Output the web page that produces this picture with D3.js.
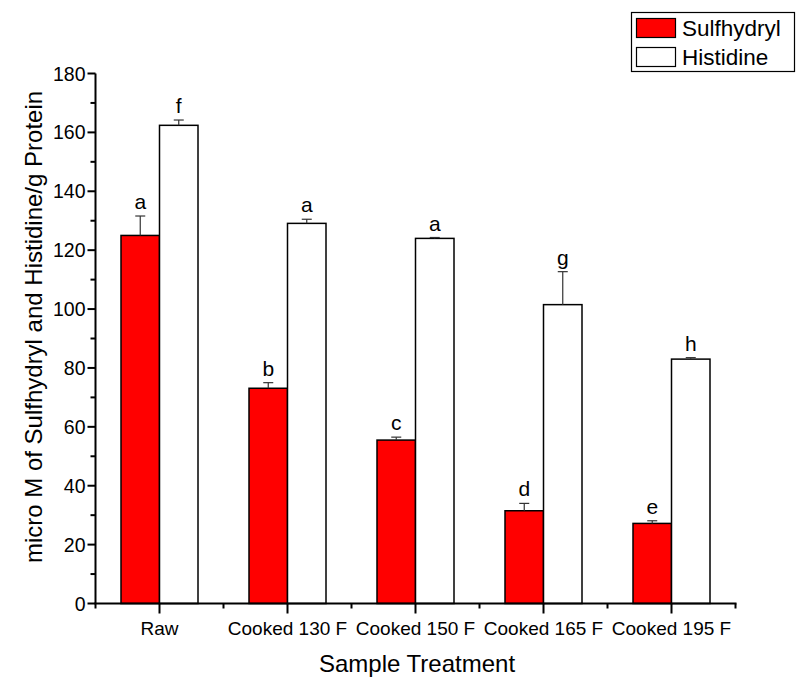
<!DOCTYPE html>
<html>
<head>
<meta charset="utf-8">
<script src="https://cdn.jsdelivr.net/npm/d3@7"></script>
<style>
  html, body { margin: 0; padding: 0; background: #fff; }
  svg { display: block; font-family: "Liberation Sans", Arial, Helvetica, sans-serif; }
</style>
</head>
<body>
<svg id="chart" width="796" height="679"></svg>
<script>
const categories = ["Raw", "Cooked 130 F", "Cooked 150 F", "Cooked 165 F", "Cooked 195 F"];
const seriesNames = ["Sulfhydryl", "Histidine"];
const sulfhydryl = [125.0, 73.1, 55.5, 31.5, 27.2];
const sulfhydrylErr = [6.6, 1.9, 1.0, 2.5, 0.9];
const histidine = [162.4, 129.1, 124.0, 101.5, 83.0];
const histidineErr = [1.8, 1.4, 0.3, 11.2, 0.5];
const sulfhydrylLetters = ["a", "b", "c", "d", "e"];
const histidineLetters = ["f", "a", "a", "g", "h"];
const yTicks = [0, 20, 40, 60, 80, 100, 120, 140, 160, 180];
const yMinorTicks = [10, 30, 50, 70, 90, 110, 130, 150, 170];
const xTitle = "Sample Treatment";
const yTitle = "micro M of Sulfhydryl and Histidine/g Protein";

const svg = d3.select("#chart");
const mLeft = 95.5, mRight = 735.5, mTop = 73.5, mBottom = 603.5;

const x = d3.scaleBand().domain(categories).range([mLeft, mRight]).padding(0);
const bw = 38.5;
const xs = d3.scaleBand().domain(seriesNames)
  .range([x.bandwidth() / 2 - bw, x.bandwidth() / 2 + bw]).padding(0);
const y = d3.scaleLinear().domain([0, 180]).range([mBottom, mTop]);

const fills = { "Sulfhydryl": "#ff0000", "Histidine": "#ffffff" };
const rows = categories.map((c, i) => ({
  cat: c,
  items: [
    { s: "Sulfhydryl", v: sulfhydryl[i], e: sulfhydrylErr[i], l: sulfhydrylLetters[i] },
    { s: "Histidine", v: histidine[i], e: histidineErr[i], l: histidineLetters[i] }
  ]
}));

const g = svg.selectAll("g.grp").data(rows).join("g")
  .attr("class", "grp")
  .attr("transform", d => `translate(${x(d.cat)},0)`);

g.selectAll("rect").data(d => d.items).join("rect")
  .attr("x", d => xs(d.s))
  .attr("y", d => y(d.v))
  .attr("width", xs.bandwidth())
  .attr("height", d => y(0) - y(d.v))
  .attr("fill", d => fills[d.s])
  .attr("stroke", "#000")
  .attr("stroke-width", 1.5);

g.selectAll("line.err").data(d => d.items).join("line")
  .attr("class", "err")
  .attr("x1", d => xs(d.s) + xs.bandwidth() / 2)
  .attr("x2", d => xs(d.s) + xs.bandwidth() / 2)
  .attr("y1", d => y(d.v))
  .attr("y2", d => y(d.v + d.e))
  .attr("stroke", "#333").attr("stroke-width", 1.2);
g.selectAll("line.cap").data(d => d.items).join("line")
  .attr("class", "cap")
  .attr("x1", d => xs(d.s) + xs.bandwidth() / 2 - 5)
  .attr("x2", d => xs(d.s) + xs.bandwidth() / 2 + 5)
  .attr("y1", d => y(d.v + d.e))
  .attr("y2", d => y(d.v + d.e))
  .attr("stroke", "#333").attr("stroke-width", 1.2);

g.selectAll("text.lbl").data(d => d.items).join("text")
  .attr("class", "lbl")
  .attr("x", d => xs(d.s) + xs.bandwidth() / 2)
  .attr("y", d => y(d.v + d.e) - 7)
  .attr("text-anchor", "middle")
  .attr("font-size", 21)
  .attr("fill", "#000")
  .text(d => d.l);

const yAxis = svg.append("g").attr("transform", `translate(${mLeft},0)`);
yAxis.append("line").attr("x1", 0).attr("x2", 0).attr("y1", y(0)).attr("y2", y(180))
  .attr("stroke", "#000").attr("stroke-width", 2);
yAxis.selectAll("line.maj").data(yTicks).join("line").attr("class", "maj")
  .attr("x1", -8).attr("x2", 0).attr("y1", d => y(d)).attr("y2", d => y(d))
  .attr("stroke", "#000").attr("stroke-width", 2);
yAxis.selectAll("line.min").data(yMinorTicks).join("line").attr("class", "min")
  .attr("x1", -5).attr("x2", 0).attr("y1", d => y(d)).attr("y2", d => y(d))
  .attr("stroke", "#000").attr("stroke-width", 2);
yAxis.selectAll("text").data(yTicks).join("text")
  .attr("x", -10).attr("y", d => y(d)).attr("dy", "0.36em")
  .attr("text-anchor", "end").attr("font-size", 19.5).text(d => d);

const xAxis = svg.append("g").attr("transform", `translate(0,${mBottom})`);
xAxis.append("line").attr("x1", mLeft - 1).attr("x2", mRight + 1).attr("y1", 0).attr("y2", 0)
  .attr("stroke", "#000").attr("stroke-width", 2);
xAxis.selectAll("line.maj").data(categories).join("line").attr("class", "maj")
  .attr("x1", d => x(d) + x.bandwidth() / 2).attr("x2", d => x(d) + x.bandwidth() / 2)
  .attr("y1", 0).attr("y2", 10).attr("stroke", "#000").attr("stroke-width", 2);
const minorX = [mLeft].concat(categories.map(c => x(c) + x.bandwidth()));
xAxis.selectAll("line.min").data(minorX).join("line").attr("class", "min")
  .attr("x1", d => d).attr("x2", d => d)
  .attr("y1", 0).attr("y2", 5).attr("stroke", "#000").attr("stroke-width", 2);
xAxis.selectAll("text").data(categories).join("text")
  .attr("x", d => x(d) + x.bandwidth() / 2).attr("y", 31)
  .attr("text-anchor", "middle").attr("font-size", 19).text(d => d);

svg.append("text").attr("x", 417).attr("y", 672)
  .attr("text-anchor", "middle").attr("font-size", 24).text(xTitle);
svg.append("text").attr("transform", `translate(42,327) rotate(-90)`)
  .attr("text-anchor", "middle").attr("font-size", 24).text(yTitle);

const lg = svg.append("g");
lg.append("rect").attr("x", 631.5).attr("y", 12.5).attr("width", 163).attr("height", 59)
  .attr("fill", "#fff").attr("stroke", "#000").attr("stroke-width", 1.2);
seriesNames.forEach((s, i) => {
  lg.append("rect").attr("x", 636.5).attr("y", 18.5 + i * 29).attr("width", 39).attr("height", 19)
    .attr("fill", fills[s]).attr("stroke", "#000").attr("stroke-width", 1.2);
  lg.append("text").attr("x", 682).attr("y", 36 + i * 29).attr("font-size", 22.5).text(s);
});
</script>
</body>
</html>
